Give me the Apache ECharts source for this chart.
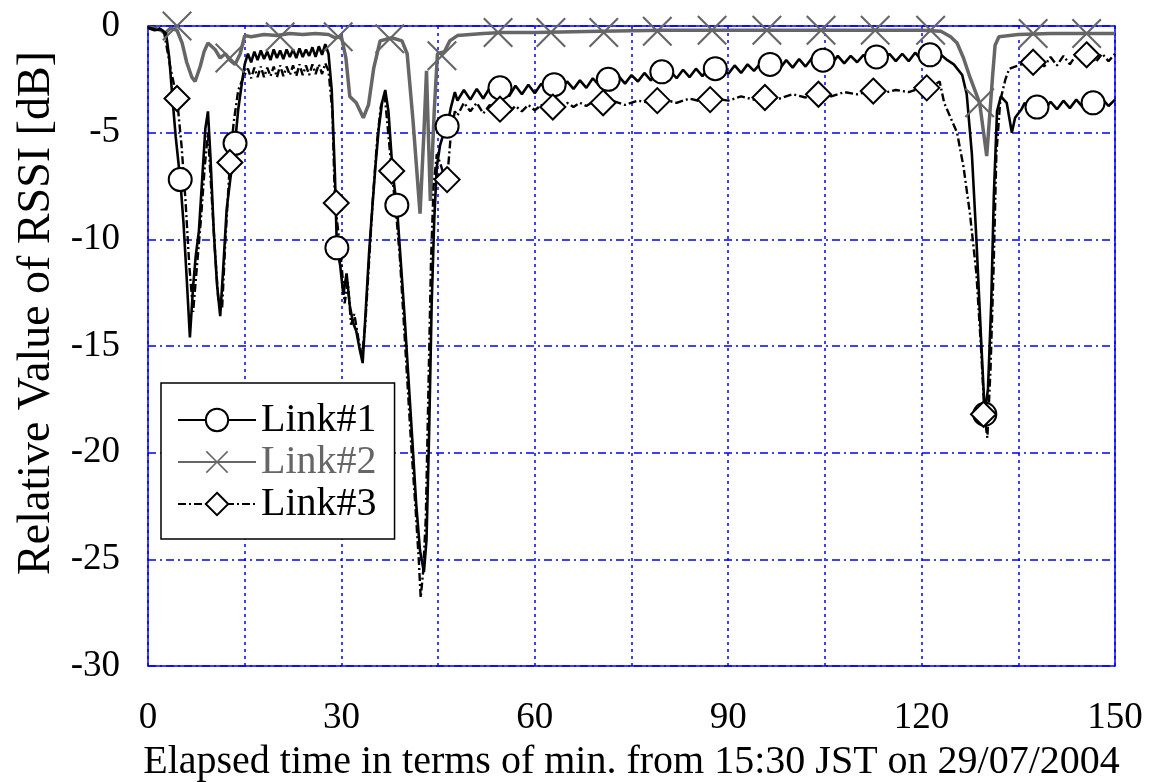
<!DOCTYPE html>
<html>
<head>
<meta charset="utf-8">
<script src="https://cdn.jsdelivr.net/npm/echarts/dist/echarts.min.js"></script>
<style>
  html, body { margin: 0; padding: 0; background: #fff; }
  #chart { width: 1149px; height: 782px; }
</style>
</head>
<body>
<div id="chart"></div>
<script>
// Link#1, [minutes, dB]
const link1 = [
  [0,-0.1],[1,-0.2],[2,-0.15],[2.8,-0.35],[3.3,-1.5],[3.8,-3.4],[4.3,-5.2],[5,-7.2],[5.5,-9.2],[6,-11.8],[6.5,-14.6],
  [7,-12.2],[7.4,-10.8],[7.9,-9.6],[8.4,-7.2],[8.9,-4.8],[9.3,-4.0],[9.7,-6.2],[10.2,-9.6],[10.7,-12.1],[11.2,-13.6],
  [11.7,-11.2],[12.2,-8.6],[12.8,-7.1],[13.5,-5.5],[14,-3.9],[14.6,-2.6],[15,-1.8],
  [15.5,-1.3],[16,-1.7],[16.5,-1.2],[17,-1.6],[17.5,-1.15],[18,-1.55],[18.5,-1.2],[19,-1.6],[19.5,-1.1],[20,-1.5],
  [20.5,-1.15],[21,-1.55],[21.5,-1.1],[22,-1.45],[22.5,-1.1],[23,-1.5],[23.5,-1.05],[24,-1.45],[24.5,-1.1],[25,-1.4],
  [25.5,-1.0],[26,-1.45],[26.5,-0.95],[27,-1.35],[27.5,-0.85],[28,-1.3],
  [28.5,-3.0],[29,-7.0],[29.3,-10.4],[29.8,-11.2],[30.3,-12.6],[30.8,-11.6],[31.3,-13.1],[31.8,-13.9],[32.3,-14.3],
  [32.8,-15.1],[33.3,-15.8],[33.8,-13.2],[34.3,-10.6],[34.8,-8.5],[35.3,-6.5],[35.8,-4.8],[36.3,-3.6],[36.8,-3.0],
  [37.3,-4.0],[37.8,-6.2],[38.2,-7.5],[38.6,-8.4],[39.2,-11],[39.8,-13.6],[40.4,-16.5],[41,-19.4],[41.6,-22.4],
  [42.2,-24.6],[42.8,-25.6],[43.2,-24.1],[43.6,-19.2],[44,-13.1],[44.4,-9.1],[44.8,-6.6],[45.3,-5.6],[45.9,-5.0],
  [46.4,-4.7],[47,-3.8],[47.6,-3.1],
  [48,-3.5],[49,-3.0],[50,-3.45],[51,-2.95],[52,-3.4],[53,-2.9],[54,-3.3],[55,-2.85],[56,-3.3],[57,-2.8],[58,-3.2],
  [59,-2.75],[60,-3.15],[61,-2.7],[62,-3.1],[63,-2.65],[64,-3.0],[65,-2.6],[66,-2.95],[67,-2.55],[68,-2.9],[69,-2.45],
  [70,-2.8],[71,-2.4],[72,-2.75],[73,-2.35],[74,-2.7],[75,-2.3],[76,-2.6],[77,-2.2],[78,-2.55],[79,-2.15],[80,-2.5],
  [81,-2.1],[82,-2.45],[83,-2.05],[84,-2.4],[85,-2.0],[86,-2.35],[87,-1.95],[88,-2.3],[89,-1.9],[90,-2.25],[91,-1.85],
  [92,-2.2],[93,-1.8],[94,-2.1],[95,-1.75],[96,-2.05],[97,-1.7],[98,-2.0],[99,-1.6],[100,-1.95],[101,-1.55],[102,-1.9],
  [103,-1.5],[104,-1.85],[105,-1.45],[106,-1.8],[107,-1.4],[108,-1.75],[109,-1.4],[110,-1.7],[111,-1.35],[112,-1.7],
  [113,-1.3],[114,-1.65],[115,-1.3],[116,-1.65],[117,-1.3],[118,-1.65],[119,-1.25],[120,-1.6],[121,-1.25],[122,-1.55],
  [123,-1.35],[124,-1.6],
  [125,-1.8],[126.3,-2.3],[127,-3.2],[127.8,-6],[128.5,-10],[129.2,-14.5],[129.8,-18.2],[130.3,-17],[130.8,-13],
  [131.2,-8],[131.7,-4],[132.3,-3.3],[133.2,-3.6],[134,-5.0],[134.5,-4.3],[135.5,-3.9],
  [136,-3.6],[137,-4.0],[138,-3.6],[139,-3.95],[140,-3.55],[141,-3.9],[142,-3.5],[143,-3.85],[144,-3.45],[145,-3.8],
  [146,-3.4],[147,-3.8],[148,-3.4],[149,-3.75],[150,-3.45]
];

// Link#2
const link2 = [
  [0,-0.05],[1,-0.1],[2,-0.2],[2.6,-0.35],[3.5,-0.1],[4.5,-0.2],[5.3,-0.8],[6,-1.7],[6.8,-2.4],[7.3,-2.6],[8.1,-1.9],
  [8.7,-1.2],[9.3,-0.8],[10.4,-1.1],[11.2,-1.5],[12,-1.3],[12.7,-1.6],[13.5,-1.8],[14.3,-1.3],[15,-0.45],[16,-0.5],
  [18,-0.4],[20,-0.45],[22,-0.35],[24,-0.4],[26,-0.35],[28,-0.4],[29,-0.55],[30,-0.5],[30.7,-1.5],[31.3,-3.3],
  [32.3,-3.6],[33.4,-4.3],[34.2,-3.7],[35,-2.0],[36,-0.7],[37.8,-0.55],[39.4,-0.7],[40.2,-1.3],[41.1,-4.4],
  [42.2,-8.8],[42.8,-5],[43.2,-2.1],[43.8,-8.2],[44.4,-4],[44.9,-1.3],[46,-1.2],[46.8,-0.7],[48,-0.45],[50,-0.4],
  [52,-0.35],[55,-0.3],[60,-0.3],[70,-0.25],[80,-0.2],[90,-0.2],[100,-0.2],[110,-0.2],[120,-0.2],[123,-0.25],
  [124.5,-0.5],[125.5,-0.8],[126.5,-1.5],[127.5,-2.4],[129,-3.6],[130.1,-6.1],[131,-2.4],[131.4,-0.9],[132,-0.5],
  [135,-0.4],[140,-0.35],[150,-0.35]
];

// Link#3
const link3 = [
  [0,-0.05],[1,-0.15],[2,-0.1],[2.5,-0.3],[3.5,-2.0],[4.5,-3.4],[5.2,-5.6],[5.8,-8.1],[6.4,-11.2],[7,-13.4],[7.5,-11.6],
  [8.2,-9.1],[8.8,-6.6],[9.3,-5.0],[9.8,-7.6],[10.4,-10.6],[10.9,-12.8],[11.5,-13.2],[12,-10.1],[12.7,-6.4],[13.3,-4.5],
  [14,-3.0],[14.8,-2.4],
  [15.5,-2.0],[16,-2.45],[16.5,-1.95],[17,-2.4],[17.5,-1.9],[18,-2.4],[18.5,-1.95],[19,-2.35],[19.5,-1.9],[20,-2.4],
  [20.5,-1.85],[21,-2.35],[21.5,-1.9],[22,-2.3],[22.5,-1.85],[23,-2.35],[23.5,-1.8],[24,-2.3],[24.5,-1.85],[25,-2.3],
  [25.5,-1.8],[26,-2.25],[26.5,-1.8],[27,-2.25],[27.5,-1.75],[28,-2.1],
  [28.6,-4.0],[29,-8.3],[29.5,-9.6],[30,-11.1],[30.5,-13],[31,-12],[31.5,-14],[32,-13.5],[32.6,-14.6],[33.2,-15.5],
  [33.7,-14],[34.3,-11],[34.9,-8],[35.5,-5.5],[36.1,-3.8],[36.7,-3.2],[37.2,-4.8],[37.8,-6.8],[38.5,-8.8],[39.1,-11],
  [39.7,-14],[40.3,-17],[40.9,-20],[41.5,-22.6],[42,-25],[42.3,-26.8],[42.7,-25.5],[43.1,-23],[43.5,-17],[43.9,-11],
  [44.3,-7.5],[44.8,-6],[45.4,-6.5],[45.9,-7.0],[46.4,-7.2],[47,-5],[47.6,-4.0],
  [48,-4.2],[49,-3.6],[50,-4.0],[51,-3.6],[52,-4.1],[53,-3.7],[54,-4.0],[55,-3.75],[56,-4.05],[57,-3.75],[58,-4.0],
  [59,-3.7],[60,-3.95],[61,-3.7],[62,-3.9],[63,-3.65],[64,-3.85],[65,-3.6],[66,-3.8],[67,-3.6],[68,-3.75],[69,-3.55],
  [70,-3.7],[72,-3.5],[74,-3.7],[76,-3.5],[78,-3.6],[80,-3.45],[82,-3.6],[84,-3.4],[86,-3.55],[88,-3.4],[90,-3.5],
  [92,-3.3],[94,-3.45],[96,-3.3],[98,-3.4],[100,-3.2],[102,-3.35],[104,-3.15],[106,-3.3],[108,-3.1],[110,-3.2],
  [112,-3.05],[114,-3.15],[116,-3.0],[118,-3.1],[120,-2.9],[121,-3.0],[122,-2.75],
  [122.8,-2.6],[123.5,-3.6],[124.5,-4.3],[125.5,-5.0],[126.5,-6.6],[127.5,-8.8],[128.5,-11.6],[129.2,-15],[129.8,-18.4],
  [130.2,-19.3],[130.7,-16],[131.2,-11],[131.6,-6],[132.2,-3.5],[133,-2.5],[133.6,-2.0],[134.5,-1.9],[135.5,-1.8],
  [136,-1.5],[137,-1.95],[138,-1.5],[139,-1.9],[140,-1.45],[141,-1.85],[142,-1.4],[143,-1.8],[144,-1.35],[145,-1.75],
  [146,-1.3],[147,-1.7],[148,-1.3],[149,-1.65],[150,-1.3]
];

// marker positions (symbols drawn every ~8 min on each trace)
const link1Marks = [[5,-7.2],[13.5,-5.5],[29.3,-10.4],[38.6,-8.4],[46.4,-4.7],[54.6,-2.9],[63,-2.75],[71.4,-2.5],
  [79.7,-2.15],[88,-2.0],[96.5,-1.8],[104.7,-1.6],[113,-1.45],[121.3,-1.35],[129.8,-18.2],[137.9,-3.8],[146.6,-3.6]];
const link2Marks = [[4.5,0],[12.7,-1.5],[20.5,-0.5],[29.5,-0.5],[37.5,-0.6],[45.6,-1.4],[54.3,-0.3],[62.5,-0.3],
  [70.7,-0.3],[79,-0.25],[87.5,-0.2],[96,-0.2],[104.4,-0.2],[112.8,-0.2],[121.4,-0.2],[129,-3.6],[137.3,-0.35],[145.6,-0.35]];
const link3Marks = [[4.5,-3.4],[12.7,-6.4],[29.2,-8.3],[37.8,-6.8],[46.4,-7.2],[54.6,-3.9],[62.8,-3.8],[70.6,-3.6],
  [79,-3.5],[87.2,-3.45],[95.7,-3.35],[104,-3.2],[112.5,-3.05],[120.8,-2.9],[129.6,-18.2],[137.3,-1.7],[145.6,-1.35]];

const xLabels = [0, 30, 60, 90, 120, 150];

const FONT = 'Liberation Serif';
const BLUE = '#0000ff';
const GRAY = '#666666';
// X shaped marker
const CROSS = 'path://M0,1 L1,0 L10,9 L19,0 L20,1 L11,10 L20,19 L19,20 L10,11 L1,20 L0,19 L9,10 Z';

const chart = echarts.init(document.getElementById('chart'));

const option = {
  animation: false,
  backgroundColor: '#fff',
  grid: {
    left: 148, right: 34, top: 26, bottom: 116,
    outerBoundsMode: 'none',
    containLabel: false,
    show: true, borderColor: BLUE, borderWidth: 1.5
  },
  legend: {
    orient: 'vertical',
    left: 161,
    top: 383,
    itemWidth: 78,
    itemHeight: 28,
    itemGap: 2,
    padding: [17, 18, 15, 16],
    borderColor: '#000',
    borderWidth: 1.5,
    backgroundColor: '#fff',
    textStyle: { fontFamily: FONT, fontSize: 40, color: '#000', lineHeight: 40 },
    data: [
      { name: 'Link#1' },
      { name: 'Link#2', textStyle: { color: GRAY } },
      { name: 'Link#3' }
    ]
  },
  xAxis: {
    type: 'value',
    min: 0, max: 150, interval: 15,
    axisLine: { show: false },
    axisTick: { show: false },
    axisLabel: {
      fontFamily: FONT, fontSize: 37, color: '#000', margin: 34,
      formatter: v => (xLabels.indexOf(v) >= 0 ? String(v) : '')
    },
    splitLine: { lineStyle: { color: BLUE, width: 1.5, type: [3, 4] } },
    name: 'Elapsed time in terms of min. from 15:30 JST on 29/07/2004',
    nameLocation: 'middle',
    nameGap: 76,
    nameTextStyle: { fontFamily: FONT, fontSize: 40, color: '#000' }
  },
  yAxis: {
    type: 'value',
    min: -30, max: 0, interval: 5,
    axisLine: { show: false },
    axisTick: { show: false },
    axisLabel: { fontFamily: FONT, fontSize: 37, color: '#000', margin: 28 },
    splitLine: { lineStyle: { color: BLUE, width: 1.5, type: [8, 4, 2, 4] } },
    name: 'Relative Value of RSSI [dB]',
    nameLocation: 'middle',
    nameRotate: 90,
    nameGap: 88,
    nameTextStyle: { fontFamily: FONT, fontSize: 46, color: '#000', padding: [0, 0, 0, 66] }
  },
  series: [
    {
      name: 'Link#2', type: 'line', data: link2, showSymbol: false,
      symbol: CROSS, symbolSize: 22,
      itemStyle: { color: GRAY },
      lineStyle: { color: GRAY, width: 3.5 }, z: 2
    },
    {
      name: 'Link#1', type: 'line', data: link1, showSymbol: false,
      symbol: 'emptyCircle', symbolSize: 22,
      itemStyle: { color: '#000' },
      lineStyle: { color: '#000', width: 2.6 }, z: 3
    },
    {
      name: 'Link#3', type: 'line', data: link3, showSymbol: false,
      symbol: 'emptyDiamond', symbolSize: 22,
      itemStyle: { color: '#000' },
      lineStyle: { color: '#000', width: 2.4, type: [8, 3, 2, 3] }, z: 3
    },
    {
      name: 'Link#2', type: 'scatter', data: link2Marks,
      symbol: CROSS, symbolSize: 30,
      itemStyle: { color: GRAY, opacity: 1 }, z: 4
    },
    {
      name: 'Link#1', type: 'scatter', data: link1Marks,
      symbol: 'emptyCircle', symbolSize: 23,
      itemStyle: { color: '#000', opacity: 1, borderWidth: 2 }, z: 4
    },
    {
      name: 'Link#3', type: 'scatter', data: link3Marks,
      symbol: 'emptyDiamond', symbolSize: 25,
      itemStyle: { color: '#000', opacity: 1, borderWidth: 2 }, z: 4
    }
  ]
};

chart.setOption(option);
</script>
</body>
</html>
